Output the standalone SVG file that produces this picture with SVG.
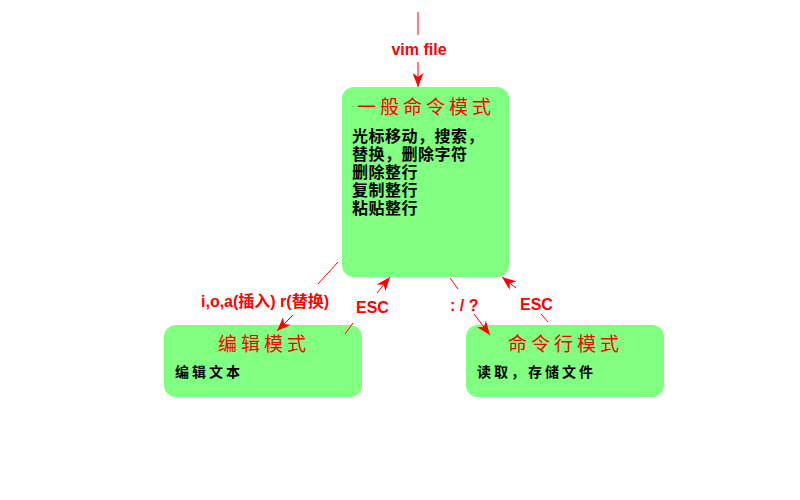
<svg xmlns="http://www.w3.org/2000/svg" width="800" height="500" viewBox="0 0 800 500">
<style>
.box{fill:#80FF80;stroke:none}
.title{font-family:"Noto Sans CJK SC","Noto Sans",sans-serif;font-size:19px;fill:#FF0000;letter-spacing:4px}
.body{font-family:"Noto Sans CJK SC","Noto Sans",sans-serif;font-weight:bold;fill:#000000}
.lbl{font-family:"Liberation Sans","Noto Sans CJK SC",sans-serif;font-weight:bold;font-size:16px;fill:#FF0000}
.ln{stroke:#FF0000;stroke-width:1;fill:none}
</style>
<defs>
<marker id="ah" markerUnits="userSpaceOnUse" markerWidth="15" markerHeight="11" refX="14" refY="5.5" orient="auto">
<path d="M0,0 L14,5.5 L0,11 L4,5.5 z" fill="#FF0000"/>
</marker>
</defs>
<rect width="800" height="500" fill="#FFFFFF"/>
<g id="node-normal">
<rect class="box" x="342" y="87" width="167" height="190" rx="12" ry="12"/>
<text class="title" x="357" y="114">一般命令模式</text>
<text class="body" font-size="16" letter-spacing="0.5" x="352">
<tspan x="352" y="142">光标移动，搜索，</tspan>
<tspan x="352" y="160">替换，删除字符</tspan>
<tspan x="352" y="178">删除整行</tspan>
<tspan x="352" y="196">复制整行</tspan>
<tspan x="352" y="214">粘贴整行</tspan>
</text>
</g>
<g id="node-edit">
<rect class="box" x="164" y="325" width="198" height="72" rx="12" ry="12"/>
<text class="title" x="218" y="351">编辑模式</text>
<text class="body" font-size="14" letter-spacing="3" x="175" y="377">编辑文本</text>
</g>
<g id="node-cmdline">
<rect class="box" x="466" y="325" width="198" height="72" rx="12" ry="12"/>
<text class="title" x="508" y="351">命令行模式</text>
<text class="body" font-size="14" letter-spacing="3" x="477" y="377">读取，存储文件</text>
</g>
<g id="connectors">
<line class="ln" x1="418" y1="12" x2="418" y2="35"/>
<line class="ln" x1="418" y1="62" x2="418" y2="87" marker-end="url(#ah)"/>
<text class="lbl" font-size="15" x="419" y="55" text-anchor="middle">vim file</text>

<line class="ln" x1="338" y1="262" x2="318" y2="284"/>
<line class="ln" x1="293" y1="315" x2="277" y2="331" marker-end="url(#ah)"/>
<text class="lbl" x="201" y="307">i,o,a(插入) r(替换)</text>

<line class="ln" x1="345" y1="334" x2="353" y2="323"/>
<line class="ln" x1="377" y1="293" x2="390" y2="277" marker-end="url(#ah)"/>
<text class="lbl" x="356" y="313">ESC</text>

<line class="ln" x1="450" y1="278" x2="458" y2="289"/>
<line class="ln" x1="474" y1="314" x2="490" y2="335" marker-end="url(#ah)"/>
<text class="lbl" x="450" y="311">: / ?</text>

<line class="ln" x1="548" y1="322" x2="541" y2="314"/>
<line class="ln" x1="516" y1="288" x2="502" y2="277" marker-end="url(#ah)"/>
<text class="lbl" x="520" y="310">ESC</text>
</g>
</svg>
